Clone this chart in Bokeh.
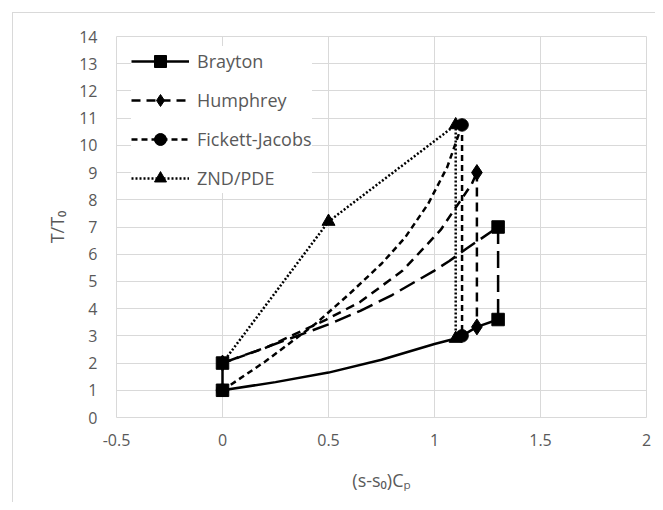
from bokeh.plotting import figure
from bokeh.models import FixedTicker, Legend, LegendItem
from bokeh.embed import file_html
from bokeh.resources import INLINE

# ---- data ----
# Brayton
brayton_comp_x = [0, 0]
brayton_comp_y = [1, 2]
brayton_heat_x = [0, 0.16, 0.3, 0.5, 0.65, 0.8, 1.0, 1.07, 1.15, 1.3]
brayton_heat_y = [2, 2.45, 2.85, 3.42, 3.92, 4.5, 5.4, 5.75, 6.2, 7.0]
brayton_exp_x = [1.3, 1.3]
brayton_exp_y = [7.0, 3.6]
reject_x = [1.3, 1.2, 1.13, 1.1, 1.0, 0.75, 0.5, 0.25, 0]
reject_y = [3.6, 3.33, 3.0, 2.9, 2.7, 2.12, 1.65, 1.3, 1]
brayton_mark_x = [0, 0, 1.3, 1.3]
brayton_mark_y = [1, 2, 7.0, 3.6]

# Humphrey
humphrey_heat_x = [0, 0.2, 0.49, 0.65, 0.85, 1.03, 1.09, 1.176, 1.2]
humphrey_heat_y = [2, 2.55, 3.6, 4.25, 5.4, 6.9, 7.6, 8.58, 9.0]
humphrey_exp_x = [1.2, 1.2]
humphrey_exp_y = [9.0, 3.33]
humphrey_mark_x = [0, 1.2, 1.2]
humphrey_mark_y = [2, 9.0, 3.33]

# Fickett-Jacobs
fj_heat_x = [0, 0.2, 0.44, 0.6, 0.75, 0.86, 0.97, 1.06, 1.13]
fj_heat_y = [1, 2.05, 3.45, 4.55, 5.65, 6.6, 7.85, 9.2, 10.75]
fj_exp_x = [1.13, 1.13]
fj_exp_y = [10.75, 3.0]
fj_mark_x = [0, 1.13, 1.13]
fj_mark_y = [1, 10.75, 3.0]

# ZND/PDE
znd_x = [0, 0.5, 1.1, 1.1]
znd_y = [2, 7.2, 10.75, 2.9]

x_ticks = [-0.5, 0, 0.5, 1, 1.5, 2]
x_tick_labels = ["-0.5", "0", "0.5", "1", "1.5", "2"]
y_ticks = list(range(0, 15))

TEXT = "#595959"
GRID = "#d9d9d9"
FONT = "Open Sans"
LW = 2.5

p = figure(width=655, height=502, x_range=(-0.5, 2), y_range=(0, 14),
           output_backend="svg", toolbar_location=None,
           min_border_left=116, min_border_right=9, min_border_top=36,
           min_border_bottom=85, border_fill_color=None,
           background_fill_color="white",
           outline_line_color=GRID, outline_line_width=1)

p.styles = {"background": (
    "linear-gradient(#d9d9d9,#d9d9d9) 12px 12px / 1px calc(100% - 12px) no-repeat, "
    "linear-gradient(#d9d9d9,#d9d9d9) 12px 12px / calc(100% - 12px) 1px no-repeat, "
    "#ffffff")}

p.xaxis.ticker = FixedTicker(ticks=x_ticks)
p.xaxis.major_label_overrides = {t: l for t, l in zip(x_ticks, x_tick_labels)}
p.yaxis.ticker = FixedTicker(ticks=y_ticks)

for ax in (p.xaxis, p.yaxis):
    ax.axis_line_color = None
    ax.major_tick_line_color = None
    ax.minor_tick_line_color = None
    ax.major_tick_out = 0
    ax.major_tick_in = 0
    ax.major_label_text_font = FONT
    ax.major_label_text_font_size = "16px"
    ax.major_label_text_color = TEXT
    ax.axis_label_text_font = FONT
    ax.axis_label_text_font_size = "18px"
    ax.axis_label_text_color = TEXT
    ax.axis_label_text_font_style = "normal"

p.xaxis.major_label_standoff = 16
p.yaxis.major_label_standoff = 19
p.xaxis.axis_label = "(s-s\u2080)C\u209a"
p.yaxis.axis_label = "T/T\u2080"
p.xaxis.axis_label_standoff = 19
p.yaxis.axis_label_standoff = 7

p.grid.grid_line_color = GRID
p.grid.grid_line_width = 1

# ---- lines ----
znd_line = p.line(znd_x, znd_y, line_color="black", line_width=LW, line_dash="2 2")

fj_line = p.line(fj_heat_x, fj_heat_y, line_color="black", line_width=LW, line_dash="6 4")
p.line(fj_exp_x, fj_exp_y, line_color="black", line_width=LW, line_dash="6 4")

hu_line = p.line(humphrey_heat_x, humphrey_heat_y, line_color="black", line_width=LW, line_dash="9 6")
p.line(humphrey_exp_x, humphrey_exp_y, line_color="black", line_width=LW, line_dash="9 6")

br_long = p.line(brayton_heat_x, brayton_heat_y, line_color="black", line_width=LW, line_dash="17 7")
p.line(brayton_exp_x, brayton_exp_y, line_color="black", line_width=LW, line_dash="17 7")
br_solid = p.line(reject_x, reject_y, line_color="black", line_width=LW)
p.line(brayton_comp_x, brayton_comp_y, line_color="black", line_width=LW)

# ---- markers ----
znd_m = p.scatter(znd_x[1:], znd_y[1:], marker="triangle", size=13, color="black")
fj_m = p.scatter(fj_mark_x, fj_mark_y, marker="circle", size=12.5, color="black")
hu_m = p.scatter(humphrey_mark_x, humphrey_mark_y, marker="diamond", size=16, color="black")
br_m = p.scatter(brayton_mark_x, brayton_mark_y, marker="square", size=12.5, color="black")

legend = Legend(items=[
    LegendItem(label="Brayton", renderers=[br_solid, br_m]),
    LegendItem(label="Humphrey", renderers=[hu_line, hu_m]),
    LegendItem(label="Fickett-Jacobs", renderers=[fj_line, fj_m]),
    LegendItem(label="ZND/PDE", renderers=[znd_line, znd_m]),
], location=(15, 224), orientation="vertical",
    glyph_width=58, glyph_height=30, label_height=30, spacing=9,
    padding=7, label_standoff=8, margin=0,
    label_text_font=FONT, label_text_font_size="18px", label_text_color=TEXT,
    border_line_color=None, background_fill_color="white", background_fill_alpha=1.0)
p.add_layout(legend, "center")

open("out.html", "w").write(file_html(p, INLINE))
